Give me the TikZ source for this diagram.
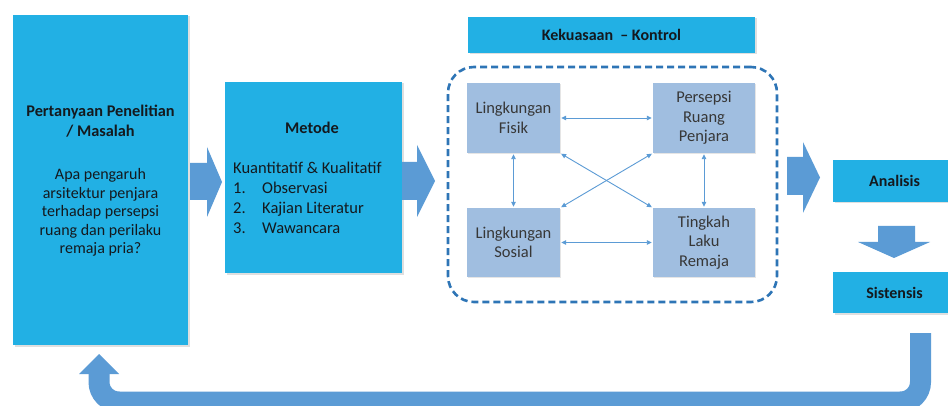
\documentclass[tikz,border=0pt]{standalone}
\usepackage{fontspec}
\setmainfont{Carlito}
\usetikzlibrary{shadows,arrows.meta}
\definecolor{cyanbox}{RGB}{34,176,228}
\definecolor{innerbox}{RGB}{160,190,224}
\definecolor{blockblue}{RGB}{91,155,213}
\definecolor{dashblue}{RGB}{46,117,182}
\definecolor{darktext}{RGB}{20,25,30}
\definecolor{graytext}{RGB}{55,55,55}
\tikzset{
  cbox/.style={fill=cyanbox, draw=none, inner sep=0pt,
    drop shadow={shadow xshift=1.5pt, shadow yshift=-1.5pt, opacity=0.25}},
  ibox/.style={fill=innerbox, draw=none, inner sep=0pt, align=center,
    text=graytext, font=\fontsize{16.5}{19.5}\selectfont,
    drop shadow={shadow xshift=1.2pt, shadow yshift=-1.2pt, opacity=0.2}},
  txt/.style={font=\fontsize{16}{18.5}\selectfont, text=darktext, inner sep=0pt},
  thinarrow/.style={draw=blockblue, line width=0.9pt,
    {Triangle[length=5pt,width=4.5pt]}-{Triangle[length=5pt,width=4.5pt]}, shorten <=1pt, shorten >=1pt},
  blockarrow/.style={fill=blockblue, draw=none},
}
\begin{document}
\begin{tikzpicture}[x=1pt,y=-1pt]
\path[use as bounding box, clip] (0,0) rectangle (948,406);
\fill[white] (0,0) rectangle (948,406);

% left box
\node[cbox, minimum width=175pt, minimum height=330pt] (q) at (100.5,180) {};
\node[txt, align=center, font=\fontsize{16.3}{20.5}\selectfont\bfseries] (qt) at (100.5,121)
  {Pertanyaan Penelitian\\/ Masalah};
\node[txt, align=center] (qb) at (100.5,212.5)
  {Apa pengaruh\\arsitektur penjara\\terhadap persepsi\\ruang dan perilaku\\remaja pria?};

% metode box
\node[cbox, minimum width=177pt, minimum height=191pt] (m) at (313.5,177.5) {};
\node[txt, font=\fontsize{16.3}{18}\selectfont\bfseries] (mt) at (312,128) {Metode};
\node[txt, align=left, anchor=west, font=\fontsize{16.5}{20}\selectfont] (mb) at (233,198)
  {Kuantitatif \& Kualitatif\\
   \makebox[29pt][l]{1.}Observasi\\
   \makebox[29pt][l]{2.}Kajian Literatur\\
   \makebox[29pt][l]{3.}Wawancara};

% kekuasaan
\node[cbox, minimum width=287pt, minimum height=36pt, txt, font=\fontsize{16}{18}\selectfont\bfseries] (k) at (611.5,35)
  {Kekuasaan \ -- Kontrol};

% dashed frame
\node[draw=dashblue, line width=2.6pt, dash pattern=on 7pt off 4pt, rounded corners=26pt,
  minimum width=329pt, minimum height=235pt, inner sep=0pt] (frame) at (612.5,184.5) {};

% inner boxes
\node[ibox, minimum width=93pt, minimum height=70pt] (lf) at (513.5,118) {Lingkungan\\Fisik};
\node[ibox, minimum width=102pt, minimum height=70pt] (prp) at (704,118) {Persepsi\\Ruang\\Penjara};
\node[ibox, minimum width=93pt, minimum height=69pt] (ls) at (513.5,242.5) {Lingkungan\\Sosial};
\node[ibox, minimum width=102pt, minimum height=69pt] (tlr) at (704,242.5) {Tingkah\\Laku\\Remaja};

\draw[thinarrow] (lf.east) -- (prp.west);
\draw[thinarrow] (ls.east) -- (tlr.west);
\draw[thinarrow] (lf.south) -- (ls.north);
\draw[thinarrow] (prp.south) -- (tlr.north);
\draw[thinarrow] (lf.south east) -- (tlr.north west);
\draw[thinarrow] (prp.south west) -- (ls.north east);

% analisis / sistensis
\node[cbox, minimum width=123pt, minimum height=42pt, txt, font=\fontsize{16}{18}\selectfont\bfseries] (an) at (894.5,181) {Analisis};
\node[cbox, minimum width=123pt, minimum height=41pt, txt, font=\fontsize{16}{18}\selectfont\bfseries] (si) at (894.5,292.5) {Sistensis};

% block arrows
\fill[blockarrow] (190,163) -- (207,163) -- (207,147) -- (222,182) -- (207,217) -- (207,200) -- (190,200) -- cycle;
\fill[blockarrow] (402,162) -- (417,162) -- (417,145) -- (435,181) -- (417,217) -- (417,200) -- (402,200) -- cycle;
\fill[blockarrow] (787,157) -- (803,157) -- (803,142) -- (820,177.5) -- (803,213) -- (803,195) -- (787,195) -- cycle;
\fill[blockarrow] (878,226) -- (915,226) -- (915,242) -- (930,242) -- (894,258) -- (858,242) -- (878,242) -- cycle;

% return arrow
\coordinate (rs) at (920.5,333);
\coordinate (re) at (99,374);
\draw[blockblue, line width=21pt, rounded corners=20pt] (rs) -- (920.5,402) -- (99,402) -- (re);
\fill[blockarrow] (79,374) -- (119,374) -- (99,354) -- cycle;
\end{tikzpicture}
\end{document}
